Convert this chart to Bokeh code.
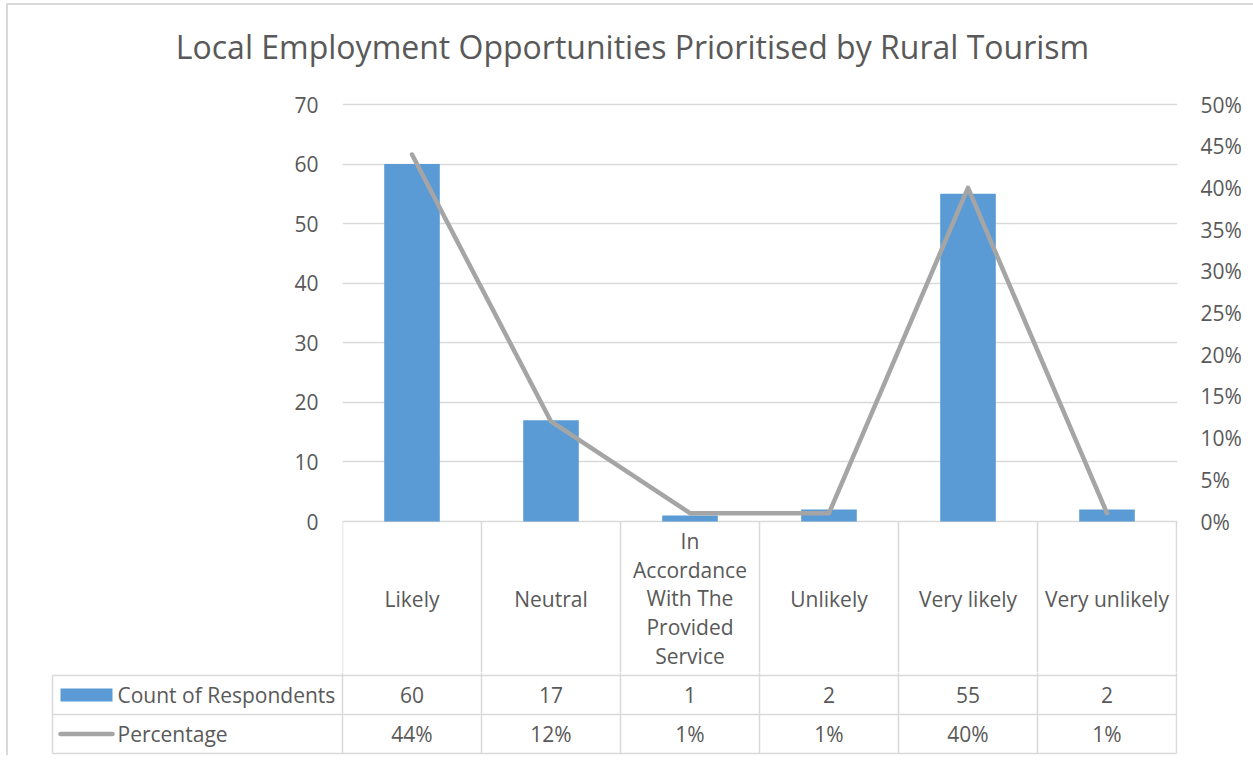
from bokeh.plotting import figure
from bokeh.models import Range1d, LinearAxis, FixedTicker, NumeralTickFormatter, ColumnDataSource
from bokeh.layouts import column
from bokeh.embed import file_html
from bokeh.resources import INLINE
from bokeh.core.properties import value

# ---------------- data ----------------
title_text = "Local Employment Opportunities Prioritised by Rural Tourism"
categories = ["Likely", "Neutral", "In Accordance With The Provided Service",
              "Unlikely", "Very likely", "Very unlikely"]
category_labels = ["Likely", "Neutral", "In\nAccordance\nWith The\nProvided\nService",
                   "Unlikely", "Very likely", "Very unlikely"]
counts = [60, 17, 1, 2, 55, 2]
percentages = [44, 12, 1, 1, 40, 1]
count_ticks = [0, 10, 20, 30, 40, 50, 60, 70]
pct_ticks = [0, 5, 10, 15, 20, 25, 30, 35, 40, 45, 50]
series_names = ["Count of Respondents", "Percentage"]

# ---------------- style ----------------
FONT = "Open Sans"
TXT = "#595959"
GRID = "#D9D9D9"
BAR = "#5B9BD5"
LINE = "#A5A5A5"
FS = "21px"

# page geometry (content origin at page x=8, y=5)
OX, OY = 8, 5
W = 1253 - OX
CAT_PX = 139.0             # pixel width of one category
PPC = 417.0 / 70.0         # pixels per count
T_TOP, A_TOP, B_TOP, B_BOT = 5, 88, 672, 755
FRAME_L, FRAME_R = 342, 1177
ZERO_Y = 521
HDR_Y, R1_Y, R2_Y = 675, 714, 753   # page y of table row bottoms

n = len(categories)
xc = [i + 0.5 for i in range(n)]
x_end = n + (FRAME_R - FRAME_L - n * CAT_PX) / CAT_PX

def style_fig(p):
    p.outline_line_color = None
    p.background_fill_color = "white"
    p.border_fill_color = "white"
    p.xgrid.grid_line_color = None
    p.ygrid.grid_line_color = None
    p.frame_align = False

def bx(px):
    """page-pixel x -> category data x"""
    return (px - FRAME_L) / CAT_PX

# ---------------- title ----------------
pT = figure(width=W, height=A_TOP - T_TOP, output_backend="svg", toolbar_location=None,
            x_range=Range1d(OX, 1253), y_range=Range1d(-A_TOP, -T_TOP),
            x_axis_location=None, y_axis_location=None,
            min_border_left=0, min_border_right=0, min_border_top=0, min_border_bottom=0)
style_fig(pT)
pT.text(x=[632], y=[-46], text=[title_text], text_font=value(FONT), text_font_size="32px",
        text_color=TXT, text_align="center", text_baseline="middle")

# ---------------- main chart (with category header cells) ----------------
A_FRAME_TOP = 98

def ay(py):
    """page-pixel y -> count data y"""
    return (ZERO_Y - py) / PPC

y_start = ay(B_TOP)
y_end = ay(A_FRAME_TOP)

pA = figure(width=W, height=B_TOP - A_TOP, output_backend="svg", toolbar_location=None,
            x_range=Range1d(0, x_end), y_range=Range1d(y_start, y_end),
            x_axis_location=None, y_axis_location="left",
            min_border_left=FRAME_L - OX, min_border_right=1253 - FRAME_R,
            min_border_top=A_FRAME_TOP - A_TOP, min_border_bottom=0)
style_fig(pA)

pA.extra_y_ranges = {"pct": Range1d(y_start * 0.5 / 70, y_end * 0.5 / 70)}

ya = pA.yaxis[0]
ya.ticker = FixedTicker(ticks=count_ticks)
ya.bounds = (0, 70)
yr = LinearAxis(y_range_name="pct", ticker=FixedTicker(ticks=[t / 100 for t in pct_ticks]),
                formatter=NumeralTickFormatter(format="0%"), bounds=(0, 0.5))
pA.add_layout(yr, "right")
for ax, so in ((ya, 24), (yr, 23)):
    ax.axis_line_color = None
    ax.major_tick_line_color = None
    ax.minor_tick_line_color = None
    ax.major_tick_out = 0
    ax.major_tick_in = 0
    ax.minor_tick_out = 0
    ax.major_label_text_font = FONT
    ax.major_label_text_font_size = FS
    ax.major_label_text_color = TXT
    ax.major_label_standoff = so

pA.ygrid.grid_line_color = GRID
pA.ygrid.grid_line_width = 1.5

src = ColumnDataSource(dict(x=xc, counts=counts, pct=[p / 100 for p in percentages]))
pA.vbar(x="x", top="counts", width=0.4, source=src, fill_color=BAR, line_color=None)
pA.line(x="x", y="pct", source=src, y_range_name="pct", line_color=LINE, line_width=4.5,
        line_join="round", line_cap="round")

# header cells of the data table
pA.segment(x0=list(range(n + 1)), y0=[0] * (n + 1), x1=list(range(n + 1)),
           y1=[y_start - 1] * (n + 1), line_color=GRID, line_width=1.5)
pA.text(x=xc, y=[ay((ZERO_Y + HDR_Y) / 2)] * n, text=category_labels, text_font=value(FONT),
        text_font_size=FS, text_color=TXT, text_align="center", text_baseline="middle",
        text_line_height=1.03)

# ---------------- data table rows ----------------
def by(py):
    """page-pixel y -> table data y (pixels below the zero line)"""
    return -(py - ZERO_Y)

tab_left = bx(52)
HDR, R1, R2 = by(HDR_Y), by(R1_Y), by(R2_Y)

pB = figure(width=W, height=B_BOT - B_TOP, output_backend="svg", toolbar_location=None,
            x_range=Range1d(bx(50), x_end), y_range=Range1d(by(B_BOT), by(B_TOP)),
            x_axis_location=None, y_axis_location=None,
            min_border_left=50 - OX, min_border_right=1253 - FRAME_R,
            min_border_top=0, min_border_bottom=0)
style_fig(pB)

pB.segment(x0=[tab_left] * 3, y0=[HDR, R1, R2], x1=[n] * 3, y1=[HDR, R1, R2],
           line_color=GRID, line_width=1.5)
pB.segment(x0=list(range(n + 1)), y0=[by(B_TOP) + 1] * (n + 1), x1=list(range(n + 1)),
           y1=[R2] * (n + 1), line_color=GRID, line_width=1.5)
pB.segment(x0=[tab_left], y0=[HDR], x1=[tab_left], y1=[R2], line_color=GRID, line_width=1.5)

row1_y = (HDR + R1) / 2
row2_y = (R1 + R2) / 2
pB.text(x=xc, y=[row1_y] * n, text=[str(c) for c in counts], text_font=value(FONT),
        text_font_size=FS, text_color=TXT, text_align="center", text_baseline="middle")
pB.text(x=xc, y=[row2_y] * n, text=[f"{p}%" for p in percentages], text_font=value(FONT),
        text_font_size=FS, text_color=TXT, text_align="center", text_baseline="middle")

pB.quad(left=[bx(60)], right=[bx(112)], top=[by(688)], bottom=[by(701)], fill_color=BAR, line_color=None)
pB.line(x=[bx(60), bx(112)], y=[row2_y, row2_y], line_color=LINE, line_width=4.5, line_cap="round")
pB.text(x=[bx(117), bx(117)], y=[row1_y, row2_y], text=series_names, text_font=value(FONT),
        text_font_size=FS, text_color=TXT, text_align="left", text_baseline="middle")

layout = column(pT, pA, pB, styles={"border-left": "2px solid #D9D9D9",
                                    "border-top": "2px solid #D9D9D9",
                                    "margin-left": "6px", "margin-top": "3px"})

open("out.html", "w").write(file_html(layout, INLINE))
